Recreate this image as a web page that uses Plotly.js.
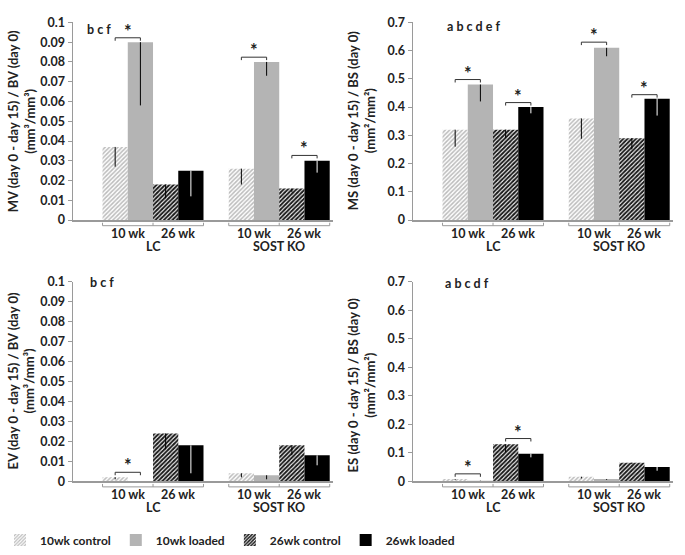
<!DOCTYPE html>
<html>
<head>
<meta charset="utf-8">
<script src="https://cdn.plot.ly/plotly-3.0.1.min.js"></script>
<style>html,body{margin:0;padding:0;background:#fff}#chart{width:685px;height:555px}</style>
</head>
<body>
<div id="chart"></div>
<script>
// ---- data ----
const groups = ['LC', 'SOST KO'];
const ages = ['10 wk', '26 wk'];
const seriesNames = ['10wk control', '10wk loaded', '26wk control', '26wk loaded'];

// MV/BV (mm3/mm3)  values per series: [LC, SOST KO]
const mv10c = [0.037, 0.026], mv10cErr = [0.010, 0.008];
const mv10l = [0.090, 0.080], mv10lErr = [0.032, 0.007];
const mv26c = [0.018, 0.016], mv26cErr = [0.007, 0.002];
const mv26l = [0.025, 0.030], mv26lErr = [0.013, 0.006];
// MS/BS (mm2/mm2)
const ms10c = [0.32, 0.36], ms10cErr = [0.06, 0.072];
const ms10l = [0.48, 0.61], ms10lErr = [0.06, 0.03];
const ms26c = [0.32, 0.29], ms26cErr = [0.03, 0.04];
const ms26l = [0.40, 0.43], ms26lErr = [0.022, 0.06];
// EV/BV (mm3/mm3)
const ev10c = [0.002, 0.004], ev10cErr = [0.001, 0.002];
const ev10l = [0.0, 0.003], ev10lErr = [0.0, 0.002];
const ev26c = [0.024, 0.018], ev26cErr = [0.008, 0.005];
const ev26l = [0.018, 0.013], ev26lErr = [0.014, 0.005];
// ES/BS (mm2/mm2)
const es10c = [0.008, 0.016], es10cErr = [0.003, 0.006];
const es10l = [0.002, 0.008], es10lErr = [0.001, 0.003];
const es26c = [0.13, 0.065], es26cErr = [0.028, 0.005];
const es26l = [0.097, 0.05], es26lErr = [0.013, 0.013];

const noPlus = [0, 0];

// significance brackets: [group index, first series, second series, height]
const mvSig = [[0, 0, 1, 0.0922], [1, 0, 1, 0.0824], [1, 2, 3, 0.0327]];
const msSig = [[0, 0, 1, 0.4976], [0, 2, 3, 0.416], [1, 0, 1, 0.630], [1, 2, 3, 0.444]];
const evSig = [[0, 0, 1, 0.0045]];
const esSig = [[0, 0, 1, 0.026], [0, 2, 3, 0.150]];

const panelLetters = ['b c f', 'a b c d e f', 'b c f', 'a b c d f'];
const yTitles = [
  'MV (day 0 - day 15) / BV (day 0)<br>(mm³/mm³)',
  'MS (day 0 - day 15) / BS (day 0)<br>(mm²/mm²)',
  'EV (day 0 - day 15) / BV (day 0)<br>(mm³/mm³)',
  'ES (day 0 - day 15) / BS (day 0)<br>(mm²/mm²)'
];
const yMax = [0.1, 0.7, 0.1, 0.7];
const yStep = [0.01, 0.1, 0.01, 0.1];

// ---- styles ----
const FONT = 'Lato, "Open Sans", "DejaVu Sans", sans-serif';
const W = 685, H = 555;
const seriesStyle = [
  {color: '#ffffff', pattern: {shape: '/', fgcolor: '#bcbcbc', bgcolor: '#ffffff', size: 3, solidity: 0.5}, err: '#000000'},
  {color: '#b4b4b4', pattern: null, err: '#000000'},
  {color: '#ffffff', pattern: {shape: '/', fgcolor: '#1a1a1a', bgcolor: '#ffffff', size: 3, solidity: 0.65}, err: '#000000'},
  {color: '#000000', pattern: null, err: '#ffffff'}
];

const panels = [
  {vals: [mv10c, mv10l, mv26c, mv26l], errs: [mv10cErr, mv10lErr, mv26cErr, mv26lErr], sig: mvSig},
  {vals: [ms10c, ms10l, ms26c, ms26l], errs: [ms10cErr, ms10lErr, ms26cErr, ms26lErr], sig: msSig},
  {vals: [ev10c, ev10l, ev26c, ev26l], errs: [ev10cErr, ev10lErr, ev26cErr, ev26lErr], sig: evSig},
  {vals: [es10c, es10l, es26c, es26l], errs: [es10cErr, es10lErr, es26cErr, es26lErr], sig: esSig}
];

// pixel boxes of each plot area [left, right, top, bottom]
const boxes = [
  [73, 333, 22.7, 223.3],
  [413, 673, 22.7, 223.3],
  [73, 333, 286, 488.3],
  [413, 673, 286, 488.3]
];
const letterPos = [[85, 30], [445, 27], [88, 287], [443, 288]];
const titlePos = [[21, 123], [361, 122], [21, 387], [361, 390]];

const GROUP_STRIDE = 5;
const xRange = [-1.67, 8.63];
const pos = (g, k) => g * GROUP_STRIDE + k;

const traces = [];
const layout = {
  width: W, height: H,
  margin: {l: 0, r: 0, t: 0, b: 0},
  paper_bgcolor: '#ffffff', plot_bgcolor: '#ffffff',
  barmode: 'overlay',
  showlegend: true,
  font: {family: FONT, size: 12, color: '#222', weight: 'bold'},
  legend: {
    orientation: 'h', x: 0, xanchor: 'left', y: 1 - 548 / H, yanchor: 'middle',
    font: {family: FONT, size: 12, color: '#222', weight: 'bold'},
    itemwidth: 30, bgcolor: 'rgba(0,0,0,0)', borderwidth: 0, traceorder: 'normal'
  },
  annotations: [],
  shapes: []
};

panels.forEach((p, pi) => {
  const suf = pi === 0 ? '' : String(pi + 1);
  const xa = 'x' + suf, ya = 'y' + suf;
  const [l, r, t, b] = boxes[pi];
  layout['xaxis' + suf] = {
    domain: [l / W, r / W], range: xRange, anchor: ya,
    showline: true, linecolor: '#9a9a9a', linewidth: 1.5,
    showticklabels: false, ticks: '', showgrid: false, zeroline: false, fixedrange: true
  };
  layout['yaxis' + suf] = {
    domain: [1 - b / H, 1 - t / H], range: [0, yMax[pi]], anchor: xa,
    dtick: yStep[pi], tick0: 0,
    showline: true, linecolor: '#9a9a9a', linewidth: 1.5,
    ticks: 'outside', ticklen: 4, tickcolor: '#9a9a9a', tickwidth: 1,
    tickfont: {family: FONT, size: 12.5, color: '#222', weight: 'bold'},
    showgrid: false, zeroline: false, fixedrange: true
  };

  p.vals.forEach((v, k) => {
    const st = seriesStyle[k];
    const marker = {color: st.color, line: {width: 0}};
    if (st.pattern) marker.pattern = st.pattern;
    traces.push({
      type: 'bar', name: seriesNames[k], showlegend: pi === 0,
      x: groups.map((g, gi) => pos(gi, k)), y: v, width: 1,
      xaxis: xa, yaxis: ya, marker: marker,
      error_y: {type: 'data', symmetric: false, array: noPlus, arrayminus: p.errs[k], width: 0, thickness: 1, color: st.err},
      hoverinfo: 'skip'
    });
  });

  // category labels and brackets below the axis
  const yPx = (px) => 1 - px / H;
  groups.forEach((g, gi) => {
    const x0 = pos(gi, 0) - 0.5, xm = pos(gi, 2) - 0.5, x1 = pos(gi, 3) + 0.5;
    const by = b + 5.7, byTop = b + 2.7;
    layout.shapes.push({type: 'line', xref: xa, yref: 'paper', x0: x0, x1: x1, y0: yPx(by), y1: yPx(by), line: {color: '#9a9a9a', width: 1}});
    [x0, xm, x1].forEach(xx => layout.shapes.push({type: 'line', xref: xa, yref: 'paper', x0: xx, x1: xx, y0: yPx(by), y1: yPx(byTop), line: {color: '#9a9a9a', width: 1}}));
    ages.forEach((a, ai) => {
      layout.annotations.push({xref: xa, yref: 'paper', x: pos(gi, ai * 2) + 0.5, y: yPx(b + 13.5), text: a, showarrow: false,
        xanchor: 'center', yanchor: 'middle', font: {family: FONT, size: 12.5, color: '#222', weight: 'bold'}});
    });
    layout.annotations.push({xref: xa, yref: 'paper', x: pos(gi, 1.5), y: yPx(b + 27), text: g, showarrow: false,
      xanchor: 'center', yanchor: 'middle', font: {family: FONT, size: 12.5, color: '#222', weight: 'bold'}});
  });

  // significance brackets
  const unitPerPx = yMax[pi] / (b - t);
  p.sig.forEach(([gi, s1, s2, h]) => {
    const xA = pos(gi, s1), xB = pos(gi, s2);
    const d = 3 * unitPerPx;
    layout.shapes.push({type: 'path', xref: xa, yref: ya,
      path: `M${xA},${h - d} L${xA},${h} L${xB},${h} L${xB},${h - d}`,
      line: {color: '#333', width: 1}});
    layout.annotations.push({xref: xa, yref: ya, x: (xA + xB) / 2, y: h, text: '*', showarrow: false,
      xanchor: 'center', yanchor: 'bottom', yshift: -6, font: {family: FONT, size: 18, color: '#222', weight: 'bold'}});
  });

  // panel letters
  layout.annotations.push({xref: 'paper', yref: 'paper', x: letterPos[pi][0] / W, y: 1 - letterPos[pi][1] / H,
    text: panelLetters[pi], showarrow: false, xanchor: 'left', yanchor: 'middle',
    font: {family: FONT, size: 12.5, color: '#222', weight: 'bold'}});

  // y titles
  layout.annotations.push({xref: 'paper', yref: 'paper', x: titlePos[pi][0] / W, y: 1 - titlePos[pi][1] / H,
    text: yTitles[pi], showarrow: false, textangle: -90, xanchor: 'center', yanchor: 'middle',
    font: {family: FONT, size: 13, color: '#222', weight: 'bold'}});
});

Plotly.newPlot('chart', traces, layout, {displayModeBar: false, staticPlot: true});
</script>
</body>
</html>
